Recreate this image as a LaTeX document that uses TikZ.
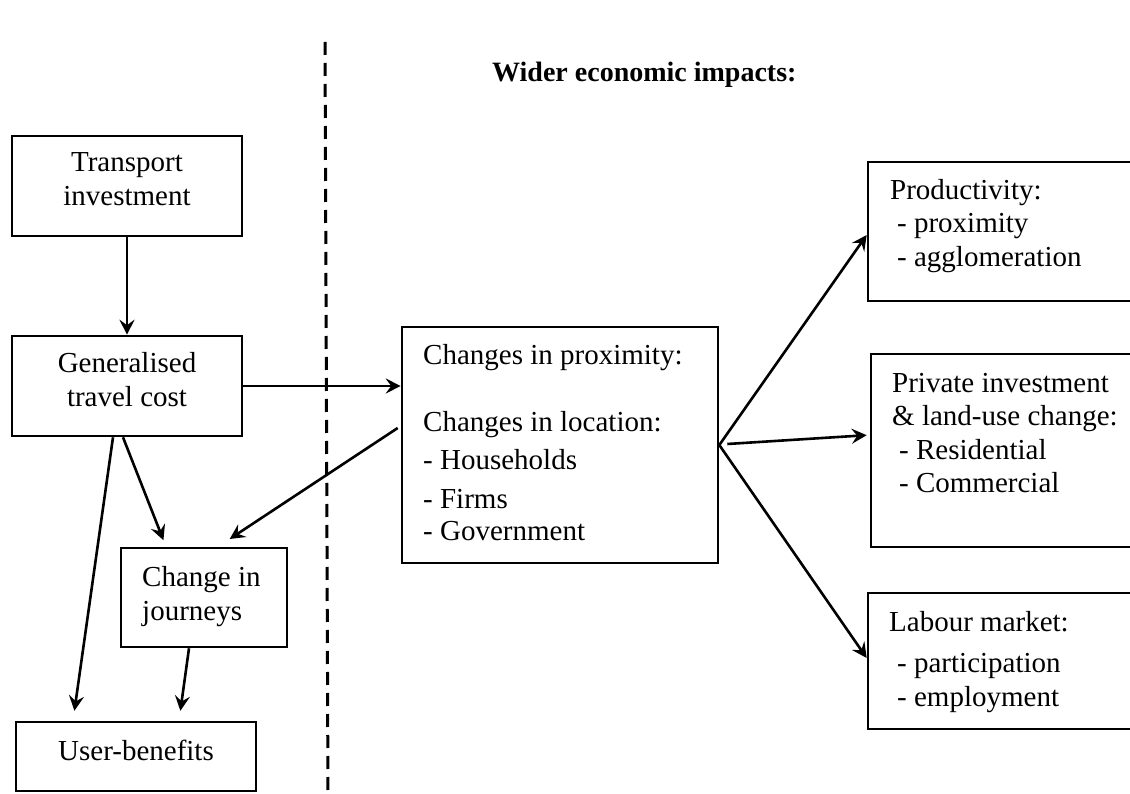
\documentclass[tikz,border=0pt]{standalone}
\usepackage{fontspec}
\setmainfont{Liberation Serif}
\usetikzlibrary{arrows.meta,calc}
\tikzset{
  box/.style={draw, line width=2.6pt, rectangle, inner sep=0pt},
  txt/.style={font=\fontsize{29}{34}\selectfont, inner sep=0pt},
  ttl/.style={font=\fontsize{28}{34}\selectfont\bfseries, inner sep=0pt},
  arr/.style={line width=2.6pt, -{Stealth[length=15pt,width=15pt,inset=5.5pt]}},
  divider/.style={line width=3pt, dash pattern=on 13pt off 8pt},
}
\begin{document}
\begin{tikzpicture}[x=1pt,y=-1pt]
\useasboundingbox (0,0) rectangle (1130,794);
\fill[white] (0,0) rectangle (1130,794);

% dashed divider
\coordinate (dtop) at (325,42);
\coordinate (dbot) at (328,800);
\draw[divider] (dtop) -- (dbot);

% title
\node[ttl, anchor=base west] (title) at (492,82) {Wider economic impacts:};

% boxes
\node[box, minimum width=230pt, minimum height=100pt] (trans) at (127,186) {};
\node[box, minimum width=230pt, minimum height=100pt] (gtc) at (127,386) {};
\node[box, minimum width=166pt, minimum height=99pt] (cij) at (204,597.5) {};
\node[box, minimum width=240pt, minimum height=69pt] (ub) at (136,756.5) {};
\node[box, minimum width=316pt, minimum height=236pt] (mid) at (560,445) {};
\node[box, minimum width=272pt, minimum height=139pt] (prod) at (1004,231.5) {};
\node[box, minimum width=269pt, minimum height=193pt] (priv) at (1005.5,450.5) {};
\node[box, minimum width=272pt, minimum height=136pt] (lab) at (1004,661) {};

% texts (base anchor = baseline of the last line)
\node[txt, align=center, anchor=base] (transt) at (127,206) {Transport\\investment};
\node[txt, align=center, anchor=base] (gtct) at (127,406) {Generalised\\travel cost};
\node[txt, align=left, anchor=base west] (cijt) at (142,620) {Change in\\journeys};
\node[txt, anchor=base] (ubt) at (136,760) {User-benefits};
\node[txt, align=left, anchor=base west] (midt) at (423,540)
  {Changes in proximity:\\[33pt]Changes in location:\\[4pt]- Households\\[5pt]- Firms\\[-2pt]- Government};
\node[txt, align=left, anchor=base west] (prodt) at (890,267)
  {Productivity:\\[-1pt]\hspace*{7pt}- proximity\\\hspace*{7pt}- agglomeration};
\node[txt, align=left, anchor=base west] (privt) at (892,492.5)
  {Private investment\\[-0.5pt]\&\ land-use change:\\[-0.5pt]\hspace*{7pt}- Residential\\[-0.5pt]\hspace*{7pt}- Commercial};
\node[txt, align=left, anchor=base west] (labt) at (889,706)
  {Labour market:\\[7pt]\hspace*{8pt}- participation\\\hspace*{8pt}- employment};

% connectors
\draw[arr] (trans.south) -- (gtc.north);
\draw[arr] (gtc.east) -- (gtc.east -| mid.west);
\draw[arr, shorten >=10pt] ($(gtc.south)+(-14,0)$) -- ($(ub.north)+(-63,0)$);
\draw[arr, shorten >=7pt] ($(gtc.south)+(-4,0)$) -- ($(cij.north)+(-38,0)$);
\draw[arr, shorten >=14pt] ($(mid.west)+(-3,-17)$) -- ($(cij.north)+(14,0)$);
\draw[arr, shorten >=10pt] ($(cij.south)+(-15,0)$) -- ($(ub.north)+(43,0)$);
\draw[arr] (mid.east) -- ($(prod.west)+(0,3.5)$);
\draw[arr, shorten >=3pt] ($(mid.east)+(8,-1)$) -- ($(priv.west)+(0,-15.5)$);
\draw[arr] (mid.east) -- ($(lab.west)+(0,-3)$);
\end{tikzpicture}
\end{document}
